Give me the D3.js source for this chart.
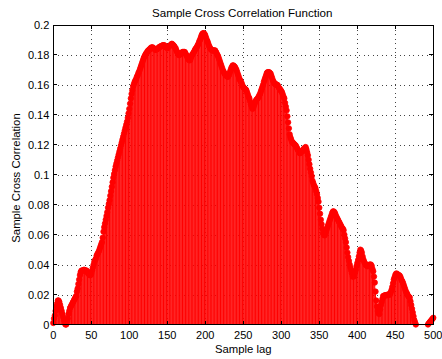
<!DOCTYPE html>
<html><head><meta charset="utf-8">
<script src="https://cdn.jsdelivr.net/npm/d3@7"></script>
<style>
body{margin:0;background:#fff}
svg{display:block}
text{font-family:"Liberation Sans",Arial,Helvetica,sans-serif;fill:#000}
</style>
</head><body>
<svg id="chart" width="442" height="359"></svg>
<script>
// Sample cross correlation values for lags 0..500
const values = [
0.001,0.004,0.006,0.009,0.012,0.014,0.016,0.016,0.015,0.013,
0.011,0.009,0.007,0.005,0.003,0.001,0.000,0.000,0.002,0.004,
0.007,0.009,0.011,0.012,0.013,0.014,0.015,0.016,0.017,0.018,
0.019,0.022,0.024,0.027,0.030,0.033,0.035,0.036,0.036,0.036,
0.0365,0.0365,0.036,0.036,0.036,0.035,0.034,0.0335,0.033,0.033,
0.034,0.036,0.038,0.040,0.042,0.043,0.044,0.046,0.047,0.048,
0.049,0.0505,0.052,0.0535,0.055,0.058,0.062,0.065,0.0675,0.070,
0.0725,0.075,0.078,0.0805,0.083,0.086,0.089,0.092,0.095,0.098,
0.1005,0.103,0.1055,0.1075,0.1095,0.1115,0.1135,0.1155,0.1175,0.1195,
0.1215,0.1235,0.1255,0.1275,0.1295,0.1315,0.1335,0.1355,0.138,0.141,
0.144,0.1475,0.151,0.154,0.1565,0.159,0.1605,0.162,0.163,0.164,
0.1655,0.1665,0.168,0.169,0.1705,0.172,0.1735,0.175,0.1765,0.178,
0.179,0.180,0.181,0.1815,0.1825,0.183,0.1835,0.184,0.1845,0.185,
0.185,0.185,0.1845,0.184,0.1835,0.1835,0.184,0.184,0.1845,0.185,
0.1855,0.1855,0.186,0.186,0.1865,0.1865,0.1865,0.186,0.1855,0.185,
0.1845,0.185,0.1855,0.186,0.1865,0.187,0.1875,0.187,0.1865,0.186,
0.185,0.1845,0.183,0.182,0.181,0.180,0.180,0.1805,0.181,0.1815,
0.182,0.182,0.182,0.182,0.181,0.180,0.179,0.178,0.177,0.1765,
0.1765,0.178,0.1795,0.1805,0.181,0.182,0.183,0.184,0.1845,0.1855,
0.1865,0.1875,0.189,0.190,0.1915,0.193,0.194,0.1945,0.1945,0.194,
0.193,0.1915,0.190,0.189,0.1875,0.186,0.185,0.184,0.1835,0.183,
0.183,0.183,0.183,0.183,0.182,0.181,0.180,0.179,0.1775,0.176,
0.1745,0.173,0.1715,0.170,0.169,0.168,0.167,0.1665,0.166,0.1655,
0.1655,0.1665,0.168,0.1695,0.171,0.172,0.173,0.173,0.1725,0.172,
0.171,0.170,0.1685,0.167,0.1655,0.164,0.163,0.162,0.161,0.1595,
0.1585,0.158,0.1575,0.157,0.1565,0.155,0.1535,0.152,0.151,0.149,
0.147,0.1455,0.144,0.1445,0.146,0.1475,0.149,0.150,0.1505,0.151,
0.152,0.153,0.154,0.1555,0.157,0.1585,0.160,0.162,0.1635,0.165,
0.1665,0.168,0.1685,0.1685,0.1685,0.168,0.1675,0.166,0.1645,0.163,
0.162,0.161,0.1605,0.1605,0.160,0.160,0.159,0.158,0.1575,0.1565,
0.156,0.155,0.1535,0.152,0.151,0.148,0.1455,0.143,0.139,0.135,
0.131,0.127,0.125,0.1235,0.122,0.1215,0.121,0.1205,0.120,0.1195,
0.1185,0.1175,0.1165,0.1155,0.1145,0.1145,0.115,0.1155,0.116,0.117,
0.1175,0.118,0.1185,0.117,0.115,0.113,0.110,0.107,0.104,0.1015,
0.099,0.096,0.0945,0.093,0.092,0.091,0.089,0.087,0.0845,0.082,
0.078,0.074,0.070,0.067,0.064,0.061,0.060,0.0595,0.061,0.0625,
0.064,0.0655,0.067,0.0685,0.070,0.0715,0.073,0.0745,0.0755,0.0755,
0.075,0.074,0.0725,0.0715,0.0705,0.0695,0.0685,0.0675,0.0665,0.0655,
0.0645,0.064,0.063,0.060,0.0575,0.055,0.0515,0.048,0.045,0.0425,
0.040,0.038,0.036,0.034,0.032,0.032,0.0325,0.0345,0.0365,0.039,
0.041,0.043,0.0455,0.048,0.050,0.0495,0.048,0.0455,0.0435,0.042,
0.041,0.040,0.0395,0.039,0.039,0.0395,0.040,0.040,0.040,0.039,
0.037,0.0355,0.032,0.028,0.022,0.016,0.012,0.009,0.0075,0.007,
0.010,0.013,0.015,0.017,0.019,0.019,0.0195,0.0195,0.0195,0.0195,
0.020,0.020,0.020,0.020,0.0215,0.023,0.025,0.0275,0.030,0.0315,
0.033,0.034,0.034,0.0335,0.033,0.033,0.0325,0.0315,0.030,0.029,
0.028,0.0265,0.025,0.0235,0.022,0.021,0.020,0.019,0.0185,0.018,
0.0155,0.013,0.0105,0.008,0.0055,0.003,0.0015,0.000,-0.002,-0.003,
-0.0035,-0.004,-0.0045,-0.005,-0.0055,-0.006,-0.0055,-0.005,-0.004,-0.0035,
-0.003,-0.002,-0.001,0.000,0.0007,0.0013,0.002,0.0026,0.0032,0.0038,
0.0045
];
const lags = values.map((d, i) => i);
const xTicks = [0, 50, 100, 150, 200, 250, 300, 350, 400, 450, 500];
const yTicks = [0, 0.02, 0.04, 0.06, 0.08, 0.1, 0.12, 0.14, 0.16, 0.18, 0.2];
const yTickLabels = ["0", "0.02", "0.04", "0.06", "0.08", "0.1", "0.12", "0.14", "0.16", "0.18", "0.2"];
const titleText = "Sample Cross Correlation Function";
const xLabelText = "Sample lag";
const yLabelText = "Sample Cross Correlation";

const L = 53.3, R = 433.3, T = 25, B = 324.5;
const svg = d3.select("#chart");
const x = d3.scaleLinear().domain([0, 500]).range([L, R]);
const y = d3.scaleLinear().domain([0, 0.2]).range([B, T]);

svg.append("defs").append("clipPath").attr("id", "clip")
  .append("rect").attr("x", L).attr("y", T).attr("width", R - L).attr("height", B - T);

// grid
const grid = svg.append("g").attr("stroke", "#444").attr("stroke-width", 1)
  .attr("stroke-dasharray", "1,3.5").attr("shape-rendering", "crispEdges");
grid.selectAll("line.gx").data(xTicks.slice(1, -1)).join("line")
  .attr("x1", d => Math.round(x(d)) + 0.5).attr("x2", d => Math.round(x(d)) + 0.5)
  .attr("y1", T).attr("y2", B);
grid.selectAll("line.gy").data(yTicks.slice(1, -1)).join("line")
  .attr("y1", d => Math.round(y(d)) + 0.5).attr("y2", d => Math.round(y(d)) + 0.5)
  .attr("x1", L).attr("x2", R);

// stems
const data = lags.map(i => ({lag: i, v: values[i]}));
svg.append("g").attr("clip-path", "url(#clip)")
  .selectAll("line").data(data).join("line")
  .attr("x1", d => x(d.lag)).attr("x2", d => x(d.lag))
  .attr("y1", y(0)).attr("y2", d => y(d.v))
  .attr("stroke", "#ff0000").attr("stroke-width", 1);

// markers
svg.append("g").selectAll("circle").data(data.filter(d => d.v >= 0)).join("circle")
  .attr("cx", d => x(d.lag)).attr("cy", d => y(d.v)).attr("r", 2.7)
  .attr("fill", "#ff0000").attr("stroke", "#ff0000").attr("stroke-width", 0.8);

// axes box and ticks
const ax = svg.append("g").attr("stroke", "#000").attr("shape-rendering", "crispEdges");
ax.append("rect").attr("x", L).attr("y", T).attr("width", R - L).attr("height", B - T)
  .attr("fill", "none").attr("stroke-width", 1);
const tl = 4;
xTicks.forEach(t => {
  const px = x(t);
  ax.append("line").attr("x1", px).attr("x2", px).attr("y1", B).attr("y2", B - tl);
  ax.append("line").attr("x1", px).attr("x2", px).attr("y1", T).attr("y2", T + tl);
});
yTicks.forEach(t => {
  const py = y(t);
  ax.append("line").attr("x1", L).attr("x2", L + tl).attr("y1", py).attr("y2", py);
  ax.append("line").attr("x1", R).attr("x2", R - tl).attr("y1", py).attr("y2", py);
});

// tick labels
svg.append("g").selectAll("text").data(xTicks).join("text")
  .attr("x", d => x(d)).attr("y", 338.5).attr("text-anchor", "middle")
  .attr("font-size", 11).text(d => String(d));
svg.append("g").selectAll("text").data(yTicks).join("text")
  .attr("x", L - 4).attr("y", d => y(d) + 4).attr("text-anchor", "end")
  .attr("font-size", 11).text((d, i) => yTickLabels[i]);

// titles
svg.append("text").attr("x", (L + R) / 2 - 1).attr("y", 16.5).attr("text-anchor", "middle")
  .attr("font-size", 11.6).text(titleText);
svg.append("text").attr("x", (L + R) / 2).attr("y", 353).attr("text-anchor", "middle")
  .attr("font-size", 11.3).text(xLabelText);
svg.append("text").attr("transform", "translate(20,178) rotate(-90)").attr("text-anchor", "middle")
  .attr("font-size", 11.3).text(yLabelText);
</script>
</body></html>
